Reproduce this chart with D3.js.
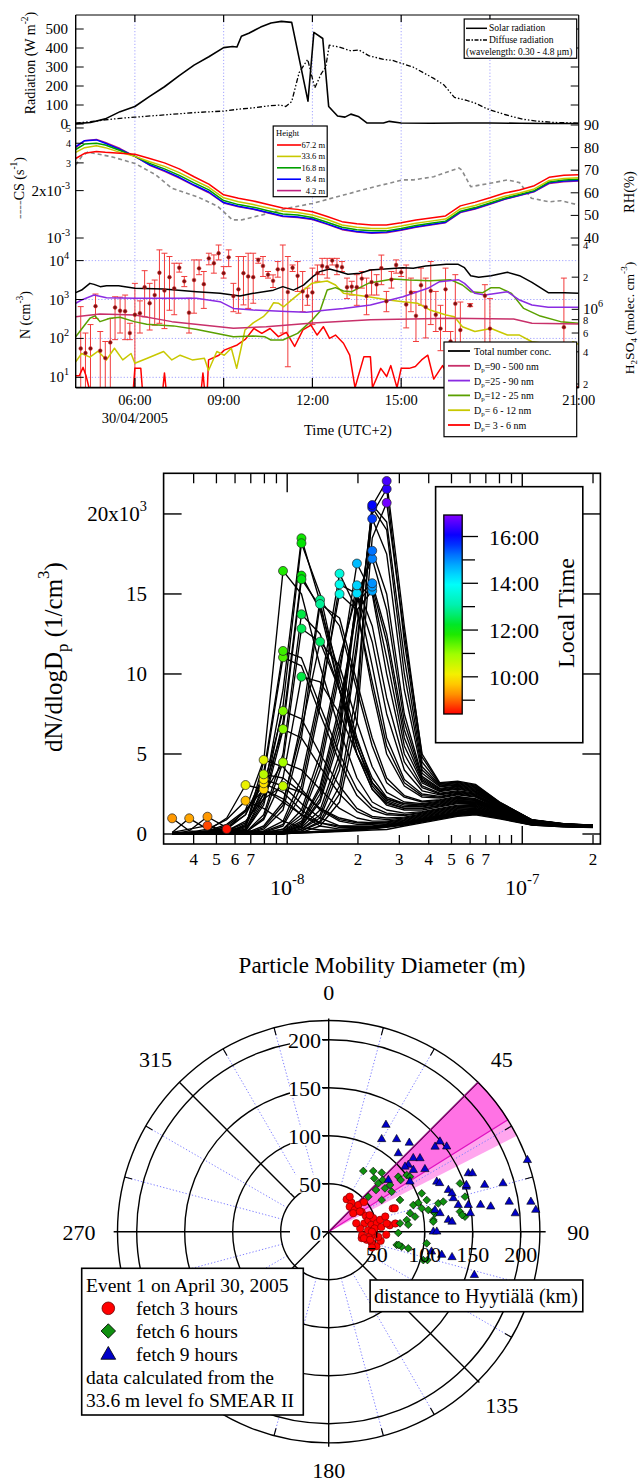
<!DOCTYPE html>
<meta charset="utf-8">
<script src="https://d3js.org/d3.v7.min.js"></script>
<style>
  body { margin: 0; background: #fff; }
  svg { display: block; }
</style>
<div id="chart"></div>
<script>
// ---------- top figure: time series of 30/04/2005 (hours, UTC+2) ----------
const solarT = [4.0,4.5,5.0,5.5,6.0,6.5,7.0,7.5,8.0,8.5,9.0,9.3,9.45,9.6,9.85,10.25,10.6,10.95,11.3,11.85,12.05,12.35,12.55,12.85,13.1,13.3,13.55,13.85,14.4,14.6,15.0,16.0,17.0,18.0,19.0,20.0,21.0];
const solarV = [2,8,27,65,92,145,196,255,310,354,402,408,405,462,478,510,532,540,535,120,482,450,92,42,36,52,40,5,5,14,5,4,5,5,4,3,3];
const diffT = [4.0,4.5,5.0,5.5,6.0,7.0,8.0,9.0,9.5,10.0,10.5,10.9,11.1,11.3,11.55,11.84,12.08,12.3,12.45,12.57,12.9,13.3,13.57,13.9,14.4,14.7,15.0,15.4,16.1,16.45,16.8,17.2,17.5,17.9,18.5,19.1,19.6,20.2,21.0];
const diffV = [5,12,22,30,36,48,60,68,78,85,95,100,92,118,270,340,190,265,300,415,405,385,390,360,340,335,320,300,240,205,140,125,110,80,50,25,15,8,5];

// condensation sink (units of 1e-3 s-1) at five heights, RH (%)
const csT = [4.0,4.3,4.7,5.0,5.5,6.0,6.5,7.0,7.5,8.0,8.5,9.0,9.5,10.0,10.5,11.0,11.5,12.0,12.5,13.0,13.5,14.0,14.5,15.0,15.5,16.0,16.5,17.0,17.5,18.0,18.5,19.0,19.5,20.0,20.5,21.0];
const cs672 = [3.2,3.45,3.55,3.5,3.45,3.4,3.2,3.0,2.75,2.45,2.2,1.88,1.79,1.72,1.63,1.55,1.52,1.47,1.37,1.27,1.23,1.21,1.21,1.25,1.3,1.34,1.38,1.6,1.69,1.8,1.93,2.02,2.15,2.43,2.5,2.52];
const cs336 = [3.5,3.75,3.85,3.75,3.5,3.3,3.05,2.85,2.6,2.33,2.1,1.8,1.7,1.63,1.55,1.48,1.45,1.4,1.31,1.21,1.17,1.15,1.15,1.19,1.24,1.28,1.32,1.53,1.61,1.72,1.84,1.93,2.05,2.32,2.39,2.41];
const cs168 = [3.65,3.95,4.0,3.9,3.6,3.3,2.98,2.75,2.5,2.24,2.02,1.73,1.63,1.57,1.49,1.42,1.4,1.35,1.26,1.17,1.13,1.11,1.11,1.15,1.2,1.24,1.28,1.48,1.56,1.67,1.79,1.89,2.0,2.27,2.34,2.36];
const cs84 = [3.8,4.15,4.2,4.0,3.65,3.3,2.92,2.68,2.43,2.17,1.96,1.68,1.59,1.53,1.45,1.38,1.36,1.32,1.23,1.14,1.1,1.08,1.09,1.13,1.18,1.22,1.26,1.46,1.54,1.65,1.77,1.87,1.98,2.24,2.3,2.32];
const cs42 = [3.75,4.15,4.22,4.05,3.7,3.3,2.9,2.65,2.4,2.15,1.94,1.67,1.58,1.52,1.44,1.37,1.35,1.31,1.22,1.13,1.09,1.07,1.08,1.12,1.17,1.21,1.25,1.45,1.53,1.64,1.76,1.86,1.97,2.22,2.28,2.3];
const heightNames = ["67.2 m", "33.6 m", "16.8 m", "8.4 m", "4.2 m"];
const heightColors = ["#ff0000", "#c8c800", "#00a000", "#0000ff", "#c02080"];
const rhT = [4.0,4.2,4.4,5.2,6.0,6.7,7.25,8.1,8.8,9.3,9.6,10.3,11.1,12.0,13.05,13.9,15.05,15.4,16.1,16.95,17.05,17.35,18.0,18.6,19.0,19.4,20.0,20.4,21.0];
const rhV = [72.3,76,78,76,73,68,62,58.3,54,48,48,50.2,53,55.3,59,62,65.7,65.7,67.1,71,70,62.7,64.2,65.7,64.5,57.6,56,56.5,54.6];

// number concentrations (cm-3)
const totT = [4.0,4.2,4.48,4.62,4.83,5.04,5.45,6.0,6.97,8.08,8.88,9.55,10.0,10.68,11.0,11.36,11.7,12.0,12.25,12.58,12.92,13.2,13.61,13.96,15.06,15.41,15.83,16.52,16.93,17.14,17.35,17.62,18.04,18.59,19.0,19.42,19.97,20.52,21.0];
const totV = [1500,1750,2600,2450,2140,2270,2270,1950,1860,1590,1440,1230,1440,1740,2140,1740,2340,3800,5200,6080,5190,4440,4710,5730,6580,6320,7270,8020,8020,6580,4100,3720,4100,4990,4100,2760,1500,1500,1440];
const purT = [4.0,4.2,4.62,5.04,6.0,8.08,8.88,9.33,10.0,11.12,11.8,12.5,13.05,13.96,15.06,15.9,16.3,16.93,17.14,17.49,17.83,18.59,19.0,19.42,19.97,21.0];
const purV = [800,970,1310,1110,1070,1070,880,590,535,490,470,540,590,720,1180,1940,2870,3240,2600,1440,1310,1590,970,720,630,630];
const magT = [4.0,4.82,6.0,7.25,9.33,10.44,12.02,13.96,16.7,18.8,19.42,21.0];
const magV = [360,425,400,270,182,200,250,300,330,315,245,235];
const grnT = [4.0,4.48,4.65,4.82,5.16,5.5,5.98,6.4,7.3,8.1,9.33,10.0,10.4,10.6,11.0,11.5,12.0,12.25,12.5,12.78,13.05,13.33,13.89,14.72,15.27,15.97,16.66,17.07,17.35,17.76,18.04,18.31,18.73,19.14,19.7,20.39,21.0];
const grnV = [110,330,380,270,330,350,270,230,210,170,110,115,110,91,91,135,300,490,1750,2020,1650,1590,2600,3370,3170,3050,3240,2360,1590,1500,2020,2020,1440,590,375,270,245];
const yelT = [4.0,4.2,4.48,4.76,5.04,5.31,5.59,5.87,6.0,6.42,6.97,7.25,7.53,7.94,8.35,8.49,8.77,9.02,9.26,9.44,9.6,9.72,10.0,10.34,10.5,10.69,10.86,11.03,11.36,11.98,12.5,12.78,13.05,13.47,13.89,14.58,15.06,15.55,15.97,16.52,16.8,17.07,17.49,18.04,18.59,19.0,19.42,19.83,20.39,20.53,20.8,21.0];
const yelV = [25,41,33,47,28,56,28,41,23,31,46,28,37,28,31,15,46,37,56,17,61,164,250,361,485,830,800,650,1070,2600,2990,2360,1440,1310,1180,970,880,800,540,400,360,200,150,180,122,122,82,75,75,37,82,70];
const redT = [4.0,4.12,4.25,4.35,4.45,5.95,6.0,6.2,6.25,6.95,7.0,7.05,8.25,8.3,8.35,8.45,8.49,8.84,9.02,9.46,9.74,10.02,10.29,10.57,10.85,11.12,11.4,11.68,11.95,12.16,12.37,12.58,12.78,13.05,13.26,13.44,13.74,13.96,14.03,14.31,14.51,14.65,14.86,15.0,15.27,15.48,15.69,15.9,16.1,16.4,16.8,17.2,17.6,18.0,18.5,19.0,19.5,20.0,20.5,21.0];
const redV = [11,11,18,11,0,0,17,17,0,0,13,0,0,13,0,0,28,37,50,68,96,180,135,180,111,143,62,165,220,122,200,100,122,75,37,0,34,34,0,17,10.5,20,0,17,17,19,28,37,9,20,0,25,12,0,30,15,0,20,10,0];
const sizeClassNames = ["Total number conc.", "=90 - 500 nm", "=25 -   90 nm", "=12 -   25 nm", "=  6 -   12 nm", "=  3 -     6 nm"];
const sizeClassColors = ["#000000", "#c8306a", "#8a2be2", "#5aa000", "#c8c800", "#ff0000"];

// H2SO4 (units of 1e6 molec. cm-3): value and error range
const h2T = [4.17,4.33,4.5,4.67,4.83,5.0,5.17,5.33,5.5,5.67,5.83,6.0,6.17,6.33,6.5,6.67,6.83,7.0,7.17,7.33,7.5,7.67,7.83,8.0,8.17,8.33,8.5,8.67,8.83,9.0,9.17,9.33,9.5,9.67,9.83,10.0,10.17,10.33,10.5,10.67,10.83,11.0,11.17,11.33,11.5,11.67,11.83,12.0,12.17,12.33,12.5,12.67,12.83,13.0,13.17,13.33,13.5,13.67,13.83,14.0,14.17,14.33,14.5,14.67,14.83,15.0,15.17,15.33,15.5,15.67,15.83,16.0,16.17,16.33,16.5,16.67,16.83,17.0,17.33,17.83,18.0,20.5];
const h2V = [0.43,0.39,0.43,1.07,0.41,0.35,0.49,1.04,0.97,0.96,0.60,0.89,0.92,1.61,1.14,1.36,2.20,1.50,2.0,1.57,2.45,1.83,0.93,1.88,2.42,1.72,3.0,2.70,3.35,2.18,3.07,1.33,1.54,2.18,2.03,2.0,2.9,2.55,2.11,1.85,2.37,2.37,1.45,2.45,2.06,1.47,1.33,1.44,2.18,2.55,2.48,2.86,2.55,2.48,1.61,1.63,1.61,1.94,1.33,1.80,1.71,2.43,1.19,1.9,2.6,2.22,1.11,1.44,0.87,1.68,1.05,1.49,0.89,0.66,1.54,0.5,1.13,0.64,1.09,1.34,0.66,0.68];
const h2Hi = [1.06,0.60,0.72,1.39,0.62,0.5,0.82,1.31,1.3,1.36,0.74,1.75,1.2,2.3,1.75,1.88,3.6,3.35,3.12,2.7,2.7,2.03,1.27,2.9,2.9,2.26,3.35,3.23,4.0,2.51,3.6,1.75,3.12,3.12,3.35,3.35,3.0,3.12,2.26,2.1,2.8,4.0,3.12,2.6,2.8,2.26,1.58,2.43,2.6,3.0,3.0,3.0,3.0,2.8,1.96,1.83,2.11,2.26,1.96,2.35,2.11,3.22,1.47,2.26,2.9,2.43,2.6,1.96,1.47,2.43,1.96,2.8,1.47,1.09,2.43,0.62,2.11,1.17,1.13,1.7,1.26,1.96];
const h2Lo = [0.18,0.18,0.18,0.82,0.18,0.18,0.18,0.52,0.6,0.52,0.52,0.18,0.6,0.85,0.64,0.71,0.74,0.66,0.98,0.89,2.23,1.63,0.6,0.92,2.11,1.02,2.61,2.18,2.9,1.96,2.51,0.95,0.92,1.10,1.02,1.14,2.7,2.03,1.96,1.6,2.0,0.6,0.29,2.26,1.47,0.95,1.09,0.72,1.83,2.11,1.96,2.6,2.11,2.26,1.26,1.36,1.09,1.58,0.89,1.36,1.36,1.7,0.95,1.58,2.18,2.03,0.67,0.95,0.5,1.09,0.54,0.72,0.62,0.41,0.62,0.18,0.18,0.35,1.06,0.47,0.18,0.18];

const hourTicks = [6, 9, 12, 15, 18];
const hourLabelT = [6, 9, 12, 15, 21];
const hourLabels = ["06:00", "09:00", "12:00", "15:00", "21:00"];

// ---------- middle figure: size distributions ----------
const sizeBins = [3.24,3.83,4.58,5.53,6.65,7.94,9.6,11.5,13.8,16.7,19.8,23.0,26.5,31.5,37.5,44.6,53.1,63.2,80,110,150,200]; // nm
const spectraTime = [8.5,8.8,9.3,9.4,9.3,9.6,9.8,9.9,10.0,10.2,10.3,10.6,10.7,10.9,11.1,11.2,11.5,11.6,11.8,11.9,12.0,12.0,12.1,12.4,12.5,12.4,12.6,12.8,12.9,13.6,13.7,13.8,14.3,14.4,14.6,14.8,14.9,15.0,15.1,15.2,15.6,15.9,16.0,16.3,16.5,16.8];
const spectraMode = [3,2,0,1,2,4,5,5,5,4,5,6,5,6,6,6,6,6,6,7,7,7,7,7,7,7,8,8,8,9,9,9,10,10,10,11,11,11,11,11,11,11,11,12,12,12];
const spectraN = [ // dN/dlogDp in 1e3 cm-3
  [0.05,0.1,0.2,0.31,0.15,0.05,0.02,0.05,0.1,0.15,0.2,0.25,0.28,0.5,0.7,0.9,1.1,1.2,0.95,0.55,0.45,0.4],
  [0.1,0.3,0.52,0.2,0.1,0.05,0.05,0.08,0.12,0.18,0.25,0.32,0.42,0.55,0.75,0.95,1.15,1.25,1.0,0.55,0.45,0.42],
  [0.98,0.2,0.1,0.15,0.1,0.1,0.08,0.1,0.15,0.2,0.28,0.35,0.45,0.6,0.8,1.0,1.2,1.3,1.05,0.6,0.48,0.42],
  [0.1,0.98,0.3,0.2,0.15,0.1,0.1,0.12,0.15,0.2,0.3,0.38,0.48,0.62,0.82,1.05,1.25,1.35,1.05,0.6,0.48,0.43],
  [0.0,0.2,1.08,0.4,0.2,0.15,0.12,0.12,0.18,0.22,0.3,0.38,0.48,0.6,0.8,1.0,1.2,1.3,1.0,0.58,0.47,0.42],
  [0.1,0.1,0.3,0.9,2.08,1.6,0.8,0.4,0.25,0.25,0.3,0.4,0.5,0.65,0.85,1.05,1.25,1.35,1.05,0.6,0.48,0.43],
  [0.0,0.1,0.2,0.6,1.5,2.79,2.2,1.2,0.5,0.3,0.35,0.42,0.52,0.68,0.9,1.1,1.3,1.4,1.1,0.62,0.5,0.44],
  [0.05,0.05,0.15,0.5,1.4,3.17,2.6,1.5,0.7,0.4,0.4,0.45,0.55,0.7,0.9,1.1,1.3,1.4,1.1,0.62,0.5,0.44],
  [0.0,0.05,0.1,0.4,1.2,3.42,3.0,1.9,1.0,0.5,0.45,0.48,0.58,0.72,0.95,1.15,1.35,1.45,1.1,0.62,0.5,0.45],
  [0.05,0.0,0.2,1.0,3.06,2.8,2.0,1.2,0.7,0.5,0.5,0.5,0.6,0.75,0.95,1.15,1.35,1.45,1.1,0.62,0.5,0.45],
  [0.0,0.05,0.1,0.3,1.5,4.63,4.2,2.8,1.5,0.8,0.6,0.6,0.65,0.8,1.0,1.2,1.4,1.5,1.15,0.65,0.5,0.45],
  [0.0,0.0,0.1,0.2,0.8,2.2,3.0,2.6,1.6,0.9,0.7,0.65,0.7,0.85,1.05,1.25,1.45,1.55,1.15,0.65,0.5,0.45],
  [0,0,0.05,0.3,1.2,3.73,3.5,2.6,1.6,1.0,0.75,0.7,0.75,0.9,1.1,1.3,1.5,1.55,1.2,0.65,0.52,0.46],
  [0,0,0.05,0.2,0.7,2.5,4.48,4.0,2.8,1.6,1.0,0.8,0.8,0.95,1.15,1.35,1.55,1.6,1.2,0.66,0.52,0.46],
  [0,0,0.05,0.1,0.5,2.8,6.56,6.0,4.2,2.5,1.4,1.0,0.9,1.0,1.2,1.4,1.6,1.65,1.25,0.68,0.52,0.46],
  [0,0,0,0.1,0.5,3.0,7.69,7.2,5.0,3.0,1.6,1.1,1.0,1.05,1.25,1.45,1.65,1.7,1.25,0.68,0.53,0.47],
  [0,0,0,0.1,0.6,3.5,11.04,10.5,7.5,4.5,2.4,1.5,1.2,1.15,1.3,1.5,1.7,1.75,1.3,0.7,0.53,0.47],
  [0,0,0,0.05,0.5,3.8,11.44,11.0,8.0,5.0,2.8,1.7,1.3,1.2,1.35,1.55,1.75,1.8,1.3,0.7,0.54,0.47],
  [0,0,0,0.05,0.4,4.5,16.44,15.0,10.5,6.5,3.5,2.0,1.5,1.3,1.4,1.6,1.8,1.85,1.35,0.72,0.55,0.48],
  [0,0,0,0,0.3,2.5,9.0,18.48,14.5,9.0,5.0,2.8,1.8,1.5,1.5,1.7,1.9,1.9,1.4,0.72,0.55,0.48],
  [0,0,0,0,0.3,2.2,8.0,18.17,15.0,9.5,5.5,3.0,2.0,1.6,1.6,1.75,1.95,1.95,1.4,0.73,0.55,0.48],
  [0,0,0,0,0.2,2.0,7.0,16.15,14.0,9.0,5.0,2.8,1.9,1.6,1.6,1.8,2.0,2.0,1.45,0.74,0.56,0.48],
  [0,0,0,0,0.2,1.8,6.5,15.92,14.2,10.0,6.0,3.2,2.1,1.7,1.7,1.85,2.05,2.0,1.45,0.75,0.56,0.49],
  [0,0,0,0,0.1,1.2,5.0,13.73,12.5,9.0,5.5,3.2,2.2,1.8,1.75,1.9,2.1,2.05,1.5,0.76,0.56,0.49],
  [0,0,0,0,0.1,1.0,4.5,12.83,12.0,9.0,5.8,3.5,2.3,1.9,1.8,1.95,2.15,2.1,1.5,0.77,0.57,0.49],
  [0,0,0,0,0.1,0.9,3.5,9.83,9.5,7.5,5.0,3.2,2.2,1.9,1.85,2.0,2.2,2.1,1.5,0.77,0.57,0.5],
  [0,0,0,0,0.05,0.5,2.0,6.5,12.02,10.5,7.0,4.2,2.6,2.0,1.9,2.05,2.25,2.15,1.55,0.78,0.57,0.5],
  [0,0,0,0,0,0.4,1.8,7.0,14.63,13.0,9.0,5.5,3.2,2.3,2.0,2.1,2.3,2.2,1.55,0.78,0.58,0.5],
  [0,0,0,0,0,0.3,1.5,6.0,14.37,13.5,9.5,6.0,3.5,2.4,2.05,2.15,2.35,2.2,1.6,0.79,0.58,0.5],
  [0,0,0,0,0,0.2,0.8,3.5,9.0,16.27,14.0,9.0,5.0,3.0,2.3,2.25,2.45,2.3,1.6,0.8,0.58,0.5],
  [0,0,0,0,0,0.15,0.6,3.0,8.5,15.0,14.0,9.5,5.5,3.2,2.4,2.3,2.5,2.35,1.65,0.8,0.59,0.51],
  [0,0,0,0,0,0.1,0.5,2.5,8.0,15.6,15.0,10.5,6.0,3.4,2.5,2.35,2.55,2.4,1.65,0.81,0.59,0.51],
  [0,0,0,0,0,0.1,0.3,1.5,5.0,11.0,15.04,12.0,7.5,4.0,2.7,2.45,2.6,2.45,1.7,0.82,0.6,0.51],
  [0,0,0,0,0,0.05,0.3,1.2,4.5,10.5,15.54,13.0,8.5,4.5,2.9,2.5,2.65,2.5,1.7,0.82,0.6,0.52],
  [0,0,0,0,0,0.05,0.2,1.0,4.0,10.0,16.9,15.0,10.0,5.0,3.0,2.55,2.7,2.55,1.75,0.83,0.6,0.52],
  [0,0,0,0,0,0,0.2,0.8,3.0,8.0,14.0,15.2,11.0,5.5,3.2,2.65,2.8,2.6,1.75,0.84,0.61,0.52],
  [0,0,0,0,0,0,0.15,0.7,2.8,7.5,14.5,15.46,12.0,6.0,3.3,2.7,2.85,2.65,1.8,0.84,0.61,0.53],
  [0,0,0,0,0,0,0.1,0.6,2.5,7.0,14.8,15.67,12.5,6.5,3.4,2.75,2.9,2.7,1.8,0.85,0.61,0.53],
  [0,0,0,0,0,0,0.1,0.5,2.2,6.5,15.0,17.2,14.0,7.0,3.5,2.8,2.95,2.75,1.85,0.85,0.62,0.53],
  [0,0,0,0,0,0,0.1,0.5,2.0,6.0,14.5,17.7,15.0,7.5,3.6,2.85,3.0,2.8,1.85,0.86,0.62,0.53],
  [0,0,0,0,0,0,0.05,0.4,1.5,5.0,13.0,19.7,17.5,9.0,3.8,2.95,3.05,2.85,1.9,0.86,0.62,0.54],
  [0,0,0,0,0,0,0.05,0.3,1.2,4.5,12.0,20.4,19.0,10.0,4.0,3.0,3.1,2.9,1.9,0.87,0.63,0.54],
  [0,0,0,0,0,0,0,0.3,1.0,4.0,11.5,20.56,19.5,11.0,4.2,3.05,3.15,2.95,1.95,0.87,0.63,0.54],
  [0,0,0,0,0,0,0,0.2,0.8,3.0,9.0,20.0,21.56,12.0,4.5,3.1,3.2,3.0,1.95,0.88,0.63,0.55],
  [0,0,0,0,0,0,0,0.2,0.7,2.5,8.0,20.5,22.06,13.0,4.8,3.15,3.25,3.05,2.0,0.88,0.64,0.55],
  [0,0,0,0,0,0,0,0.1,0.5,2.0,7.0,18.5,20.7,12.5,5.0,3.2,3.3,3.1,2.0,0.89,0.64,0.55]
];
const colorTimes = [8.4, 9.2, 10, 11, 12, 13, 14, 15, 16, 16.9];
const colorStops = ["#ff0000", "#ff8c00", "#ffee00", "#9cff00", "#00e400", "#00f0a8", "#00ffff", "#0090ff", "#0000ff", "#8000ff"];
const cbTicks = [9, 10, 11, 12, 13, 14, 15, 16];
const cbLabels = {10: "10:00", 12: "12:00", 14: "14:00", 16: "16:00"};

// ---------- bottom figure: fetch positions (bearing deg, distance km) ----------
const fetch3 = [[29,38.6],[38,38.5],[40,34],[50,35.5],[48,41.5],[53,32],[59,40],[50,48],[67,42],[77,38],[74,43],[73,48.5],[81,45],[80,51],[77,55],[86,48],[85,55],[75,61],[84,64],[70,71],[83,70],[88,41],[84,33],[73,30],[68,46],[82,61],[101,35],[102,40.5],[94,48],[107,52],[96,35],[90,45],[93,60],[98,42],[104,46],[110,48],[100,55],[31,42.5],[57,38.7],[100.6,37.4],[101,44],[96,52],[70.5,73]];
const fetch6 = [[29.7,72.8],[36.3,78.4],[41.9,82.6],[40.5,73.1],[45.7,72.2],[46.2,77.9],[52.7,80.3],[52.4,74],[57.6,77.7],[59.1,64.3],[51.7,92.4],[54.3,92.3],[54,100.4],[55.9,102.3],[66,81.3],[72.5,92.4],[72.1,98.1],[67.6,104.8],[72.1,107.3],[77.2,86.9],[81.5,82.2],[80.1,91.3],[75.9,99.9],[77.7,106.2],[80.2,112.4],[83.6,109.7],[75.5,117.9],[75.3,123.4],[69.8,145.7],[75.6,146.6],[81.3,138.3],[83.7,142.8],[83.3,74.8],[48.5,55],[48.6,65.7],[101,72.2],[101.6,77.6],[101.8,84.7],[96.8,102.8],[106.7,102.9],[85,83.2],[91,72.5],[84.5,109.4],[106,107],[82.9,140.1],[79.2,111.1],[100.7,74.3]];
const fetch9 = [[28.2,126.2],[29.8,111],[36.3,119.5],[41.6,109.2],[42.2,125],[49,116.7],[51.2,122],[50,108.2],[53.9,109.1],[57,119.5],[58.4,99.4],[49.1,82.2],[49.6,104.4],[65.2,124],[51.4,141.8],[51,149.1],[54.2,151.5],[70.8,132],[75,134.4],[67.3,157.6],[78.4,137.8],[79.2,148],[78.5,113],[80.6,117.5],[84.4,125.2],[90,109],[70.2,220],[67.9,161.6],[74.5,188.4],[73.3,169.6],[66.4,126.1],[71.9,150.8],[80.6,190.6],[81.6,212.9],[84,216.9],[84.4,195.3],[81.2,170.8],[80,160.6],[82.6,148.8],[85.4,128.9],[90,112.6],[101,109.1],[101.6,120.2],[101.7,131.2],[106.6,158.3],[71.3,151.4],[72.7,134.5]];
const ringKm = [50, 100, 150, 200];
const angleLabels = [0, 45, 90, 135, 180, 270, 315];
const angleLabelR = [250, 255, 260, 255, 248, 260, 255];
const sectorDeg = [45, 58, 63];
const legendLines = ["Event 1 on April 30, 2005", "fetch 3 hours", "fetch 6 hours", "fetch 9 hours", "data calculated from the", "33.6 m level fo SMEAR II"];

// ======================================================================
const serif = "Liberation Serif, Times New Roman, serif";
const svg = d3.select("#chart").append("svg")
    .attr("width", 638).attr("height", 1484)
    .attr("font-family", serif);
const defs = svg.append("defs");

function rich(sel, parts) {
  parts.forEach(p => {
    const s = typeof p === "string" ? p : p[0];
    const t = sel.append("tspan").text(s);
    if (p[1] === "sup") t.attr("baseline-shift", "super").attr("font-size", "68%");
    if (p[1] === "sub") t.attr("baseline-shift", "sub").attr("font-size", "68%");
  });
  return sel;
}
function vLabel(x, y, size, parts) {
  const t = svg.append("text")
      .attr("transform", `translate(${x},${y}) rotate(-90)`)
      .attr("text-anchor", "middle").attr("font-size", size);
  return rich(t, parts);
}
function clip(id, x, y, w, h) {
  defs.append("clipPath").attr("id", id).append("rect")
    .attr("x", x).attr("y", y).attr("width", w).attr("height", h);
  return `url(#${id})`;
}
function seriesPath(g, T, V, x, y, color, width, dash) {
  g.append("path")
    .datum(T.map((t, i) => [t, V[i]]))
    .attr("fill", "none").attr("stroke", color).attr("stroke-width", width)
    .attr("stroke-dasharray", dash || null).attr("stroke-linejoin", "round")
    .attr("d", d3.line().x(d => x(d[0])).y(d => y(d[1])));
}

// ---------------- top figure ----------------
const L = 75.7, R = 578.7;
const tx = d3.scaleLinear().domain([4, 21]).range([L, R]);
const yRad = d3.scaleLinear().domain([0, 573.7]).range([124, 15]);
const yCS = d3.scaleLog().domain([1, 5.3]).range([238, 124]);
const yRH = d3.scaleLinear().domain([40, 90]).range([238, 125]);
const yN = d3.scaleLog().domain([5.41, 38100]).range([387.7, 238]).clamp(true);
const yH2 = d3.scaleLog().domain([0.2, 4]).range([384, 245]);

// blue dotted grid
const grid = svg.append("g").attr("stroke", "#8c8cff").attr("stroke-width", 0.8).attr("stroke-dasharray", "1.2,2");
grid.selectAll("line.v").data(hourTicks).join("line")
  .attr("x1", d => tx(d)).attr("x2", d => tx(d)).attr("y1", 15).attr("y2", 387.7);
grid.selectAll("line.h").data([10, 100, 1000, 10000]).join("line")
  .attr("x1", L).attr("x2", R).attr("y1", d => yN(d)).attr("y2", d => yN(d));

// panel A: radiation
const gA = svg.append("g").attr("clip-path", clip("cA", L, 15, R - L, 110));
seriesPath(gA, diffT, diffV, tx, yRad, "#000", 1.3, "5,2,1.5,2,1.5,2");
seriesPath(gA, solarT, solarV, tx, yRad, "#000", 1.6);

// panel B: CS and RH
const gB = svg.append("g").attr("clip-path", clip("cB", L, 124, R - L, 114));
seriesPath(gB, rhT, rhV, tx, yRH, "#8a8a8a", 1.6, "4,3");
[cs672, cs336, cs168, cs84, cs42].reverse().forEach((s, i) =>
  seriesPath(gB, csT, s, tx, yCS, heightColors[4 - i], 1.5));

// panel C: number concentrations + H2SO4
const gC = svg.append("g").attr("clip-path", clip("cC", L, 238, R - L, 150));
const h2 = h2T.map((t, i) => ({t, v: h2V[i], lo: h2Lo[i], hi: h2Hi[i]}));
const eb = gC.append("g").attr("stroke", "#f23b3b").attr("stroke-width", 1);
eb.selectAll("line.bar").data(h2).join("line")
  .attr("x1", d => tx(d.t)).attr("x2", d => tx(d.t))
  .attr("y1", d => yH2(d.lo)).attr("y2", d => yH2(d.hi));
eb.selectAll("line.cap").data(h2.flatMap(d => [d.lo, d.hi].map(v => ({t: d.t, v})))).join("line")
  .attr("x1", d => tx(d.t) - 3).attr("x2", d => tx(d.t) + 3)
  .attr("y1", d => yH2(d.v)).attr("y2", d => yH2(d.v));
const nSeries = [[totT, totV], [magT, magV], [purT, purV], [grnT, grnV], [yelT, yelV], [redT, redV]];
nSeries.slice().reverse().forEach((s, i) =>
  seriesPath(gC, s[0], s[1].map(v => Math.max(v, 1)), tx, yN, sizeClassColors[5 - i], 1.5));
gC.selectAll("circle.h2").data(h2).join("circle")
  .attr("cx", d => tx(d.t)).attr("cy", d => yH2(d.v)).attr("r", 1.9)
  .attr("fill", "#7a1010").attr("stroke", "#e03030").attr("stroke-width", 0.5);

// frames and axes of the top figure
const frame = svg.append("g").attr("stroke", "#000").attr("fill", "none");
frame.append("line").attr("x1", L).attr("x2", L).attr("y1", 15).attr("y2", 388).attr("stroke-width", 1.4);
frame.append("line").attr("x1", R).attr("x2", R).attr("y1", 15).attr("y2", 388).attr("stroke-width", 1.2);
frame.append("line").attr("x1", L).attr("x2", R).attr("y1", 15).attr("y2", 15).attr("stroke-width", 1);
frame.append("line").attr("x1", L).attr("x2", R).attr("y1", 387.7).attr("y2", 387.7).attr("stroke-width", 1.8);
frame.selectAll("line.tt").data(hourTicks).join("line")
  .attr("x1", d => tx(d)).attr("x2", d => tx(d)).attr("y1", 15).attr("y2", 22).attr("stroke-width", 1.2);
frame.selectAll("line.tb").data(hourTicks).join("line")
  .attr("x1", d => tx(d)).attr("x2", d => tx(d)).attr("y1", 387.7).attr("y2", 378).attr("stroke-width", 1.2);

function ticks(vals, y, x0, len) {
  frame.append("g").selectAll("line").data(vals).join("line")
    .attr("x1", x0).attr("x2", x0 + len).attr("y1", d => y(d)).attr("y2", d => y(d)).attr("stroke-width", 1);
}
ticks([0, 100, 200, 300, 400, 500], yRad, L, 8);
ticks([100, 200, 300, 400, 500], yRad, R, -8);
ticks([1, 2, 3, 4, 5], yCS, L, 8);
ticks([40, 50, 60, 70, 80, 90], yRH, R, -8);
ticks([10, 100, 1000, 10000], yN, L, 8);
ticks([0.2, 0.4, 0.6, 0.8, 1, 2, 4], yH2, R, -7);

// all tick labels live in one group that is raised to the top at the end
const lab = svg.append("g").attr("fill", "#000");
function tlab(x, y, size, anchor, parts) {
  const t = lab.append("text").attr("x", x).attr("y", y).attr("font-size", size)
    .attr("text-anchor", anchor).attr("dominant-baseline", "central");
  return rich(t, parts);
}
[0, 100, 200, 300, 400, 500].forEach(v => tlab(68, yRad(v), 15, "end", [String(v)]));
tlab(70, yCS(1), 15, "end", ["10", ["-3", "sup"]]);
tlab(70, yCS(2), 15, "end", ["2x10", ["-3", "sup"]]);
[3, 4, 5].forEach(v => tlab(71, yCS(v), 10, "end", [String(v)]));
[40, 50, 60, 70, 80, 90].forEach(v => tlab(584, yRH(v), 15, "start", [String(v)]));
[[10, "1"], [100, "2"], [1000, "3"], [10000, "4"]].forEach(d => tlab(69, yN(d[0]), 15, "end", ["10", [d[1], "sup"]]));
[[0.2, "2"], [0.4, "4"], [0.6, "6"], [0.8, "8"], [2, "2"], [4, "4"]].forEach(d => tlab(583, yH2(d[0]), 10.5, "start", [d[1]]));
tlab(583, yH2(1), 15, "start", ["10", ["6", "sup"]]);
hourLabelT.forEach((h, i) => tlab(tx(h), 400, 14.5, "middle", [hourLabels[i]]));
tlab(tx(6), 418, 14.5, "middle", ["30/04/2005"]);
tlab(tx(13.2), 430, 14.5, "middle", ["Time (UTC+2)"]);

vLabel(30, 63, 14, ["Radiation (W m", ["-2", "sup"], ")"]).attr("dominant-baseline", "central");
const csLab = vLabel(19, 188, 14, []).attr("dominant-baseline", "central");
csLab.append("tspan").attr("fill", "#777").text("----");
rich(csLab, ["CS (s", ["-1", "sup"], ")"]);
vLabel(25, 315, 14, ["N (cm", ["-3", "sup"], ")"]).attr("dominant-baseline", "central");
vLabel(629, 192, 14.5, ["RH(%)"]).attr("dominant-baseline", "central");
vLabel(629, 318, 13.5, ["H", ["2", "sub"], "SO", ["4", "sub"], " (molec.  cm", ["-3", "sup"], ")"]).attr("dominant-baseline", "central");

// legends of the top figure
function box(x, y, w, h, sw) {
  return svg.append("rect").attr("x", x).attr("y", y).attr("width", w).attr("height", h)
    .attr("fill", "#fff").attr("stroke", "#000").attr("stroke-width", sw || 1);
}
box(464.2, 19, 112.5, 39.3, 1.2);
const legA = svg.append("g").attr("font-size", 9.5);
legA.append("line").attr("x1", 466).attr("x2", 487).attr("y1", 28.3).attr("y2", 28.3).attr("stroke", "#000").attr("stroke-width", 1.5);
legA.append("line").attr("x1", 466).attr("x2", 487).attr("y1", 40).attr("y2", 40).attr("stroke", "#000").attr("stroke-width", 1.3).attr("stroke-dasharray", "4,1.5,1.5,1.5");
legA.append("text").attr("x", 489).attr("y", 28.3).attr("dominant-baseline", "central").text("Solar radiation");
legA.append("text").attr("x", 489).attr("y", 40).attr("dominant-baseline", "central").text("Diffuse radiation");
legA.append("text").attr("x", 466).attr("y", 52).attr("dominant-baseline", "central").text("(wavelength: 0.30 - 4.8 \u03bcm)");

box(273.2, 126, 54, 70.7, 1.2);
const legB = svg.append("g").attr("font-size", 8.5);
legB.append("text").attr("x", 276).attr("y", 133).attr("dominant-baseline", "central").text("Height");
heightNames.forEach((n, i) => {
  const y = 145 + i * 11.4;
  legB.append("line").attr("x1", 277).attr("x2", 301).attr("y1", y).attr("y2", y).attr("stroke", heightColors[i]).attr("stroke-width", 1.6);
  legB.append("text").attr("x", 325).attr("y", y).attr("text-anchor", "end").attr("dominant-baseline", "central").text(n);
});

box(444, 342, 132.7, 94.7, 1.2);
const legC = svg.append("g").attr("font-size", 10).style("white-space", "pre");
sizeClassNames.forEach((n, i) => {
  const y = 351 + i * 14.8;
  legC.append("line").attr("x1", 448).attr("x2", 470).attr("y1", y).attr("y2", y).attr("stroke", sizeClassColors[i]).attr("stroke-width", 1.8);
  const t = legC.append("text").attr("x", 474).attr("y", y).attr("dominant-baseline", "central");
  if (i === 0) t.text(n); else rich(t, ["D", ["p", "sub"], n]);
});

// ---------------- middle figure ----------------
const mL = 163.6, mR = 600.4, mT = 473.3, mB = 844;
const mx = d3.scaleLog().domain([2.98e-9, 2.15e-7]).range([mL, mR]);
const my = d3.scaleLinear().domain([0, 22.54]).range([834, mT]);
const timeColor = d3.scaleLinear().domain(colorTimes).range(colorStops);

const gM = svg.append("g").attr("clip-path", clip("cM", mL, mT, mR - mL, mB - mT));
const specLine = d3.line().x((v, i) => mx(sizeBins[i] * 1e-9)).y(v => my(v));
gM.selectAll("path").data(spectraN).join("path")
  .attr("fill", "none").attr("stroke", "#000").attr("stroke-width", 1.35)
  .attr("stroke-linejoin", "round").attr("d", specLine);
const modes = spectraN.map((s, i) => ({d: sizeBins[spectraMode[i]] * 1e-9, v: s[spectraMode[i]], t: spectraTime[i]}));
gM.selectAll("circle").data(modes).join("circle")
  .attr("cx", d => mx(d.d)).attr("cy", d => my(d.v)).attr("r", 4.5)
  .attr("fill", d => timeColor(d.t)).attr("stroke", "#222").attr("stroke-width", 0.7);

const fm = svg.append("g").attr("stroke", "#000");
fm.append("rect").attr("x", mL).attr("y", mT).attr("width", mR - mL).attr("height", mB - mT)
  .attr("fill", "none").attr("stroke-width", 1.6);
[0, 5, 10, 15, 20].forEach(v => {
  fm.append("line").attr("x1", mL).attr("x2", mL + 18).attr("y1", my(v)).attr("y2", my(v)).attr("stroke-width", 1.4);
  fm.append("line").attr("x1", mR).attr("x2", mR - 18).attr("y1", my(v)).attr("y2", my(v)).attr("stroke-width", 1.4);
});
const minorD = [4e-9,5e-9,6e-9,7e-9,8e-9,9e-9,2e-8,3e-8,4e-8,5e-8,6e-8,7e-8,8e-8,9e-8,2e-7];
const majorD = [1e-8, 1e-7];
minorD.forEach(d => {
  fm.append("line").attr("x1", mx(d)).attr("x2", mx(d)).attr("y1", mT).attr("y2", mT + 10).attr("stroke-width", 1.3);
  fm.append("line").attr("x1", mx(d)).attr("x2", mx(d)).attr("y1", mB).attr("y2", mB - 9).attr("stroke-width", 1.3);
});
majorD.forEach(d => {
  fm.append("line").attr("x1", mx(d)).attr("x2", mx(d)).attr("y1", mT).attr("y2", mT + 19).attr("stroke-width", 1.4);
  fm.append("line").attr("x1", mx(d)).attr("x2", mx(d)).attr("y1", mB).attr("y2", mB - 18).attr("stroke-width", 1.4);
});
tlab(147, my(20), 21, "end", ["20x10", ["3", "sup"]]);
[15, 10, 5, 0].forEach(v => tlab(147, my(v), 21, "end", [String(v)]));
[[4e-9,"4"],[5e-9,"5"],[6e-9,"6"],[7e-9,"7"],[2e-8,"2"],[3e-8,"3"],[4e-8,"4"],[5e-8,"5"],[6e-8,"6"],[7e-8,"7"],[2e-7,"2"]]
  .forEach(d => tlab(mx(d[0]), 859, 17, "middle", [d[1]]));
tlab(mx(1e-8), 887, 22, "middle", ["10", ["-8", "sup"]]);
tlab(mx(1e-7), 887, 22, "middle", ["10", ["-7", "sup"]]);
vLabel(53, 657, 25, ["dN/dlogD", ["p", "sub"], " (1/cm", ["3", "sup"], ")"]).attr("dominant-baseline", "central");
tlab(382, 965, 23, "middle", ["Particle Mobility Diameter (m)"]);

// colour bar legend
box(435.6, 486.7, 147.2, 256, 1.6);
const cbY = d3.scaleLinear().domain([8.41, 16.92]).range([714, 515]);
const grad = defs.append("linearGradient").attr("id", "cbGrad").attr("x1", 0).attr("y1", 1).attr("x2", 0).attr("y2", 0);
d3.range(0, 1.0001, 0.05).forEach(f => {
  const t = 8.41 + f * (16.92 - 8.41);
  grad.append("stop").attr("offset", f).attr("stop-color", timeColor(t));
});
svg.append("rect").attr("x", 443.8).attr("y", 515).attr("width", 18.4).attr("height", 199)
  .attr("fill", "url(#cbGrad)").attr("stroke", "#000").attr("stroke-width", 1.3);
cbTicks.forEach(h => {
  svg.append("line").attr("x1", 462.2).attr("x2", cbLabels[h] ? 478 : 475)
    .attr("y1", cbY(h)).attr("y2", cbY(h)).attr("stroke", "#000").attr("stroke-width", 1.3);
  if (cbLabels[h]) tlab(489, cbY(h), 22, "start", [cbLabels[h]]);
});
vLabel(566, 613, 24, ["Local Time"]).attr("dominant-baseline", "central");

// ---------------- bottom figure: polar ----------------
const pc = {x: 328.7, y: 1231.7};
const pr = d3.scaleLinear().domain([0, 220]).range([0, 211.2]);
const rad = b => b * Math.PI / 180;
const pxy = (b, km) => [pc.x + pr(km) * Math.sin(rad(b)), pc.y - pr(km) * Math.cos(rad(b))];
const gP = svg.append("g");

const sector = d3.arc().innerRadius(0).outerRadius(pr(220));
gP.append("path").attr("transform", `translate(${pc.x},${pc.y})`)
  .attr("d", sector({startAngle: rad(sectorDeg[1]), endAngle: rad(sectorDeg[2])})).attr("fill", "#ffa6ee");
gP.append("path").attr("transform", `translate(${pc.x},${pc.y})`)
  .attr("d", sector({startAngle: rad(sectorDeg[0]), endAngle: rad(sectorDeg[1])}))
  .attr("fill", "#ff72e4").attr("stroke", "#e010c0").attr("stroke-width", 1.2);

const dotted = d3.range(0, 360, 15).filter(a => a % 45 !== 0);
gP.selectAll("line.dot").data(dotted).join("line")
  .attr("x1", a => pxy(a, 50)[0]).attr("y1", a => pxy(a, 50)[1])
  .attr("x2", a => pxy(a, 220)[0]).attr("y2", a => pxy(a, 220)[1])
  .attr("stroke", "#7f7fff").attr("stroke-width", 1).attr("stroke-dasharray", "1.3,2");
gP.selectAll("line.otick").data(dotted).join("line")
  .attr("x1", a => pxy(a, 212)[0]).attr("y1", a => pxy(a, 212)[1])
  .attr("x2", a => pxy(a, 220)[0]).attr("y2", a => pxy(a, 220)[1])
  .attr("stroke", "#000").attr("stroke-width", 1.2);
gP.selectAll("circle.ring").data(ringKm.concat([220])).join("circle")
  .attr("cx", pc.x).attr("cy", pc.y).attr("r", d => pr(d))
  .attr("fill", "none").attr("stroke", "#000").attr("stroke-width", 1.4);
[[0, 0, 222], [180, 0, 224], [90, 0, 226], [270, 0, 224], [45, 0, 220], [135, 0, 222], [225, 0, 220], [315, 50, 220]]
  .forEach(([b, r0, r1]) => {
    const a = pxy(b, r0), c = pxy(b, r1);
    gP.append("line").attr("x1", a[0]).attr("y1", a[1]).attr("x2", c[0]).attr("y2", c[1])
      .attr("stroke", "#000").attr("stroke-width", 1.4);
  });
gP.append("line").attr("x1", pc.x).attr("y1", pc.y).attr("x2", pxy(45, 220)[0]).attr("y2", pxy(45, 220)[1])
  .attr("stroke", "#e010c0").attr("stroke-width", 1);

// fetch points
gP.selectAll("circle.f3").data(fetch3).join("circle")
  .attr("cx", d => pxy(d[0], d[1])[0]).attr("cy", d => pxy(d[0], d[1])[1]).attr("r", 3.7)
  .attr("fill", "#ff0000").attr("stroke", "#700").attr("stroke-width", 0.6);
gP.selectAll("path.f6").data(fetch6).join("path")
  .attr("transform", d => `translate(${pxy(d[0], d[1])}) rotate(45)`)
  .attr("d", d3.symbol(d3.symbolSquare, 30)).attr("fill", "#109010").attr("stroke", "#000").attr("stroke-width", 0.6);
gP.selectAll("path.f9").data(fetch9).join("path")
  .attr("transform", d => `translate(${pxy(d[0], d[1])})`)
  .attr("d", d3.symbol(d3.symbolTriangle, 30)).attr("fill", "#0000c8").attr("stroke", "#000").attr("stroke-width", 0.6);

// radial labels
[0].concat(ringKm).forEach(k => {
  const y = pc.y - pr(k);
  gP.append("rect").attr("x", 290).attr("y", y - 9).attr("width", 33).attr("height", 18).attr("fill", "#fff");
  gP.append("line").attr("x1", 322).attr("x2", pc.x).attr("y1", y).attr("y2", y).attr("stroke", "#000").attr("stroke-width", 1.4);
  tlab(321, y, 22, "end", [String(k)]);
});
ringKm.forEach(k => {
  const x = pc.x + pr(k);
  gP.append("line").attr("x1", x).attr("x2", x).attr("y1", pc.y).attr("y2", pc.y + 6).attr("stroke", "#000").attr("stroke-width", 1.2);
  tlab(x, pc.y + 22, 22, "middle", [String(k)]);
});
angleLabels.forEach((a, i) => {
  const p = pxy(a, angleLabelR[i]);
  tlab(p[0], p[1], 22, "middle", [String(a)]);
});

// polar legend boxes
box(81.7, 1268.3, 221.6, 146.7, 1.6);
const legP = svg.append("g").attr("font-size", 19.5);
const legY = [1285, 1308.3, 1331, 1354, 1377, 1400];
legendLines.forEach((s, i) => {
  legP.append("text").attr("x", i >= 1 && i <= 3 ? 136 : 86).attr("y", legY[i])
    .attr("dominant-baseline", "central").text(s);
});
legP.append("circle").attr("cx", 108.3).attr("cy", legY[1]).attr("r", 6.3).attr("fill", "#ff0000").attr("stroke", "#600").attr("stroke-width", 0.8);
legP.append("path").attr("transform", `translate(108.3,${legY[2]}) rotate(45)`)
  .attr("d", d3.symbol(d3.symbolSquare, 105)).attr("fill", "#109010").attr("stroke", "#000").attr("stroke-width", 0.8);
legP.append("path").attr("transform", `translate(108.3,${legY[3] + 1})`)
  .attr("d", d3.symbol(d3.symbolTriangle, 95)).attr("fill", "#0000c8").attr("stroke", "#000").attr("stroke-width", 0.8);

box(370.1, 1280, 212.7, 31.7, 1.6);
tlab(374, 1296, 20, "start", ["distance to Hyyti\u00e4l\u00e4 (km)"]);

lab.raise();
</script>
